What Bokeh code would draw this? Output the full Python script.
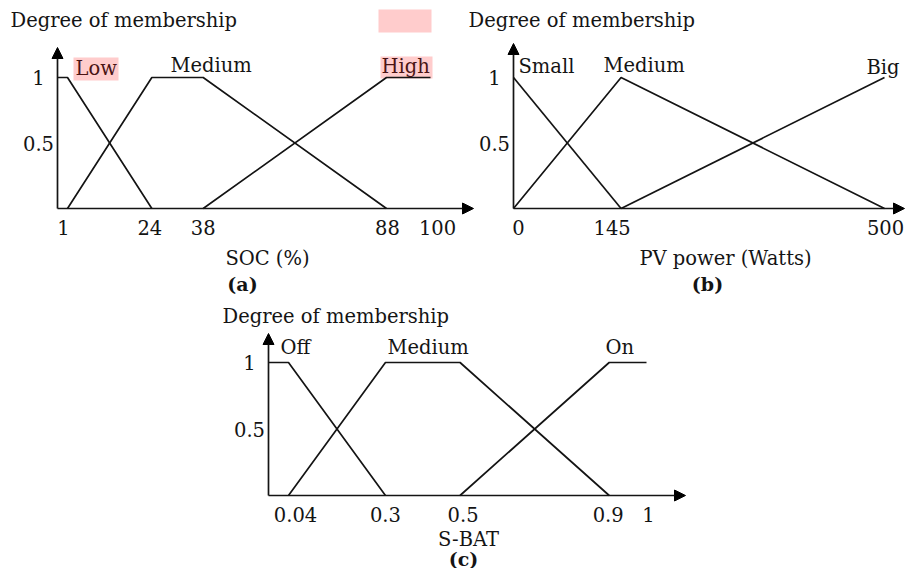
from bokeh.plotting import figure
from bokeh.models import Range1d, Arrow, NormalHead
from bokeh.core.properties import value
from bokeh.embed import file_html
from bokeh.resources import INLINE

# ---------------- data ----------------
# (a) SOC
soc_ticks = [1, 24, 38, 88, 100]
soc_tick_labels = ["1", "24", "38", "88", "100"]
soc_low_x, soc_low_y = [1, 24], [1, 0]
soc_med_x, soc_med_y = [1, 24, 38, 88], [0, 1, 1, 0]
soc_high_x, soc_high_y = [38, 88, 100], [0, 1, 1]
soc_sets = ["Low", "Medium", "High"]

# (b) PV power
pv_ticks = [0, 145, 500]
pv_tick_labels = ["0", "145", "500"]
pv_small_x, pv_small_y = [0, 145], [1, 0]
pv_med_x, pv_med_y = [0, 145, 500], [0, 1, 0]
pv_big_x, pv_big_y = [145, 500], [0, 1]
pv_sets = ["Small", "Medium", "Big"]

# (c) S-BAT
sb_ticks = [0.04, 0.3, 0.5, 0.9, 1.0]
sb_tick_labels = ["0.04", "0.3", "0.5", "0.9", "1"]
sb_off_x, sb_off_y = [0.04, 0.3], [1, 0]
sb_med_x, sb_med_y = [0.04, 0.3, 0.5, 0.9], [0, 1, 1, 0]
sb_on_x, sb_on_y = [0.5, 0.9, 1.0], [0, 1, 1]
sb_sets = ["Off", "Medium", "On"]

y_ticks = [1, 0.5]
y_tick_labels = ["1", "0.5"]

# ---------------- layout ----------------
W, H = 906, 568

def xr(v0, r0, v1, r1):
    k = (r1 - r0) / (v1 - v0)
    s = v0 - r0 / k
    return Range1d(s, s + W / k)

def yr(v0, r0, v1, r1):
    k = (r0 - r1) / (v1 - v0)
    s = v0 - (H - r0) / k
    return Range1d(s, s + H / k)

def inv_x(rng, px):
    return rng.start + px / W * (rng.end - rng.start)

def inv_y(rng, py):
    return rng.start + (H - py) / H * (rng.end - rng.start)

p = figure(width=W, height=H, output_backend="svg", toolbar_location=None,
           x_range=Range1d(0, W), y_range=Range1d(H, 0),
           x_axis_location=None, y_axis_location=None, min_border=0)
p.outline_line_color = None
p.xgrid.grid_line_color = None
p.ygrid.grid_line_color = None
p.background_fill_color = "white"
p.border_fill_color = "white"

ranges_x = {"a": xr(1, 67, 88, 386), "b": xr(0, 513, 500, 884), "c": xr(0.04, 288, 1.0, 646)}
ranges_y = {"ab": yr(0, 208, 1, 77), "c": yr(0, 495, 1, 362)}
p.extra_x_ranges = ranges_x
p.extra_y_ranges = ranges_y

FONT = value("DejaVu Serif")
FS = "19.5px"
INK = "#141414"
HL_INK = "#4a1414"
LW = 1.7

# highlight boxes (picture px)
p.quad(left=[378, 73, 380], right=[431, 118, 432], top=[9, 57, 56], bottom=[32, 80, 78],
       fill_color="#ffcccc", line_color=None)

panels = [
    dict(xn="a", yn="ab", ax_px=57, tip_px=473, top_px=47,
         curves=[(soc_low_x, soc_low_y, True), (soc_med_x, soc_med_y, False), (soc_high_x, soc_high_y, False)],
         ticks=soc_ticks, labels=soc_tick_labels, tick_off=[-4, -2, 0, 1, 7], tick_py=227),
    dict(xn="b", yn="ab", ax_px=513, tip_px=904, top_px=43,
         curves=[(pv_small_x, pv_small_y, False), (pv_med_x, pv_med_y, False), (pv_big_x, pv_big_y, False)],
         ticks=pv_ticks, labels=pv_tick_labels, tick_off=[5, -9, 1], tick_py=227),
    dict(xn="c", yn="c", ax_px=268, tip_px=685, top_px=333,
         curves=[(sb_off_x, sb_off_y, True), (sb_med_x, sb_med_y, False), (sb_on_x, sb_on_y, False)],
         ticks=sb_ticks, labels=sb_tick_labels, tick_off=[7, 0, 3, -1, 2], tick_py=514),
]

for pn in panels:
    rx, ry = ranges_x[pn["xn"]], ranges_y[pn["yn"]]
    ax = inv_x(rx, pn["ax_px"])
    tip = inv_x(rx, pn["tip_px"])
    top = inv_y(ry, pn["top_px"])
    head = dict(size=11, fill_color="black", line_color="black")
    p.add_layout(Arrow(end=NormalHead(**head), x_start=ax, y_start=0, x_end=tip, y_end=0,
                       x_range_name=pn["xn"], y_range_name=pn["yn"], line_width=LW, line_color=INK))
    p.add_layout(Arrow(end=NormalHead(**head), x_start=ax, y_start=0, x_end=ax, y_end=top,
                       x_range_name=pn["xn"], y_range_name=pn["yn"], line_width=LW, line_color=INK))
    for xs, ys, from_axis in pn["curves"]:
        xx = ([ax] if from_axis else []) + list(xs)
        yy = ([ys[0]] if from_axis else []) + list(ys)
        p.line(xx, yy, x_range_name=pn["xn"], y_range_name=pn["yn"], line_width=LW, line_color=INK)
    ty = inv_y(ry, pn["tick_py"])
    p.text(x=pn["ticks"], y=[ty] * len(pn["ticks"]), text=pn["labels"], x_offset=pn["tick_off"],
           x_range_name=pn["xn"], y_range_name=pn["yn"], text_font=FONT, text_font_size=FS,
           text_color=INK, text_align="center", text_baseline="middle")
    p.text(x=[ax] * len(y_ticks), y=y_ticks, text=y_tick_labels, x_offset=-19,
           x_range_name=pn["xn"], y_range_name=pn["yn"], text_font=FONT, text_font_size=FS,
           text_color=INK, text_align="center", text_baseline="middle")

# set names (picture px positions)
set_x = [75, 170, 381, 518, 603, 866, 280, 387, 605]
set_y = [68, 65, 66, 66, 65, 67, 347, 347, 347]
set_txt = soc_sets + pv_sets + sb_sets
set_col = [HL_INK, INK, HL_INK] + [INK] * 6
p.text(x=set_x, y=set_y, text=set_txt, text_color=set_col, text_font=FONT, text_font_size=FS,
       text_align="left", text_baseline="middle")

# titles
p.text(x=[10, 468, 222], y=[20, 20, 316], text=["Degree of membership"] * 3, text_color=INK,
       text_font=FONT, text_font_size=FS, text_align="left", text_baseline="middle")
p.text(x=[267, 725, 468], y=[258, 258, 539], text=["SOC (%)", "PV power (Watts)", "S-BAT"],
       text_color=INK, text_font=FONT, text_font_size=FS, text_align="center", text_baseline="middle")
p.text(x=[242, 707, 463], y=[283, 283, 558], text=["(a)", "(b)", "(c)"], text_color=INK,
       text_font=FONT, text_font_size="19px", text_font_style="bold", text_align="center",
       text_baseline="middle")

open("out.html", "w").write(file_html(p, INLINE))
